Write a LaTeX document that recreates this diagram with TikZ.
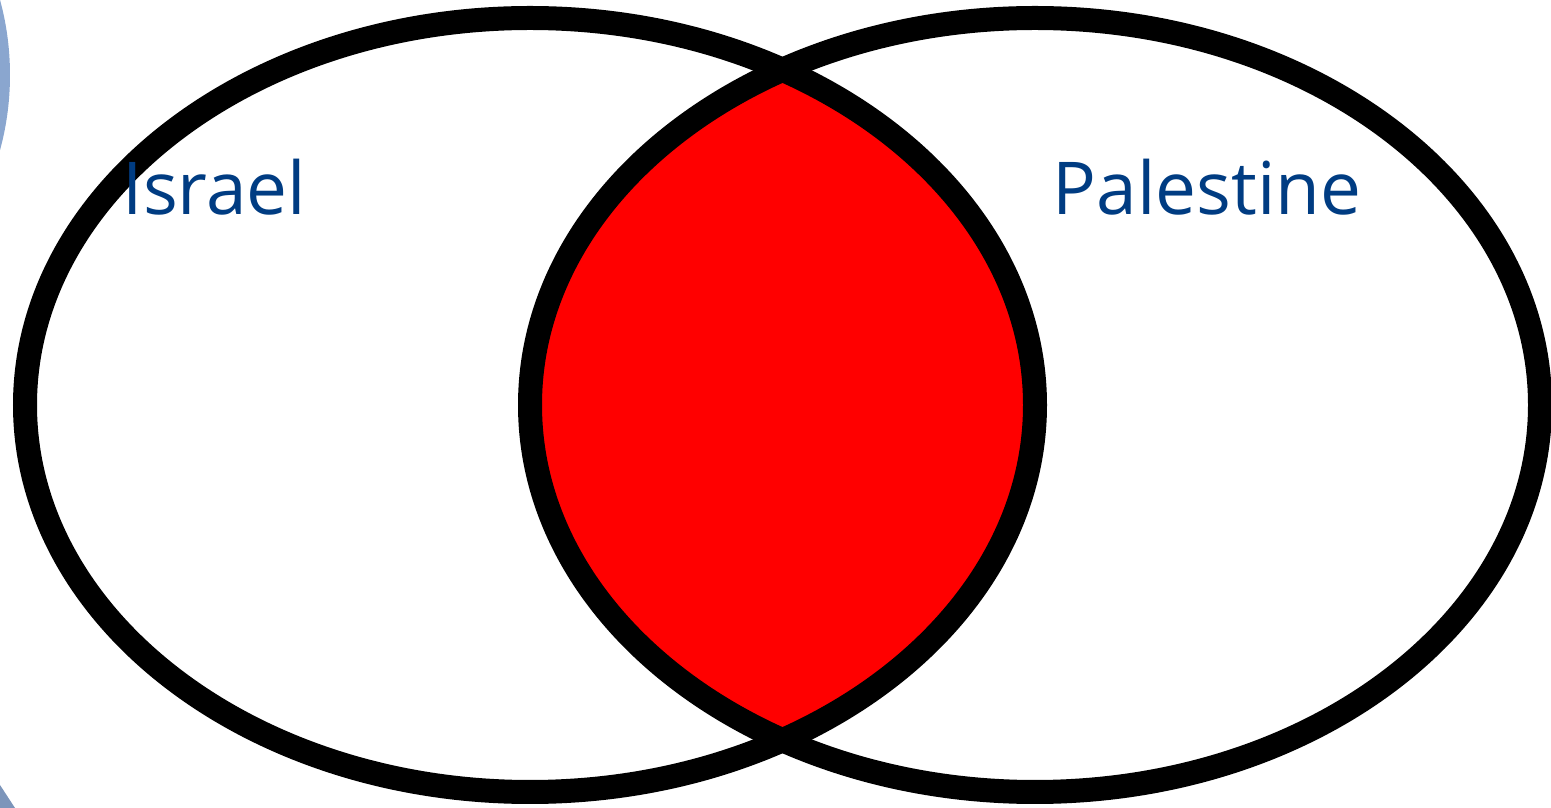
\documentclass[tikz,border=0pt]{standalone}
\usepackage{fontspec}
\setmainfont{Open Sans}
\usepackage{tikz}
\usetikzlibrary{positioning}
\definecolor{setblue}{HTML}{003C82}
\definecolor{slideblue}{HTML}{8AA6CF}
\tikzset{venn/.style={draw=black, line width=0.48cm}}
\tikzset{setlabel/.style={anchor=base west, inner sep=0pt, text=setblue,
    font=\fontsize{41.5pt}{42pt}\selectfont}}
\begin{document}
\begin{tikzpicture}
          \useasboundingbox (0,0) rectangle (31.02,16.16);
          % bits of the slide background
          \begin{scope}
            \clip (0,0) rectangle (31.02,16.16);
            \fill[slideblue] (-5.52,14.66) circle [radius=5.72];
            \fill[slideblue!90!black] (0,0.46) -- (0.3,0) -- (0,0) -- cycle;
          \end{scope}
          \coordinate (israel) at (10.6,8.06);
          \coordinate (palestine) at (20.7,8.06);
          % overlap
          \begin{scope}
            \clip (israel) ellipse [x radius=10.1, y radius=7.74];
            \fill[red] (palestine) ellipse [x radius=10.1, y radius=7.74];
          \end{scope}
          \draw[venn] (israel) ellipse [x radius=10.1, y radius=7.74];
          \draw[venn] (palestine) ellipse [x radius=10.1, y radius=7.74];
          \node[setlabel] (lblisrael) at (2.45,11.86) {Israel};
          \node[setlabel] (lblpalestine) at (21.05,11.86) {Palestine};
        \end{tikzpicture}
\end{document}
